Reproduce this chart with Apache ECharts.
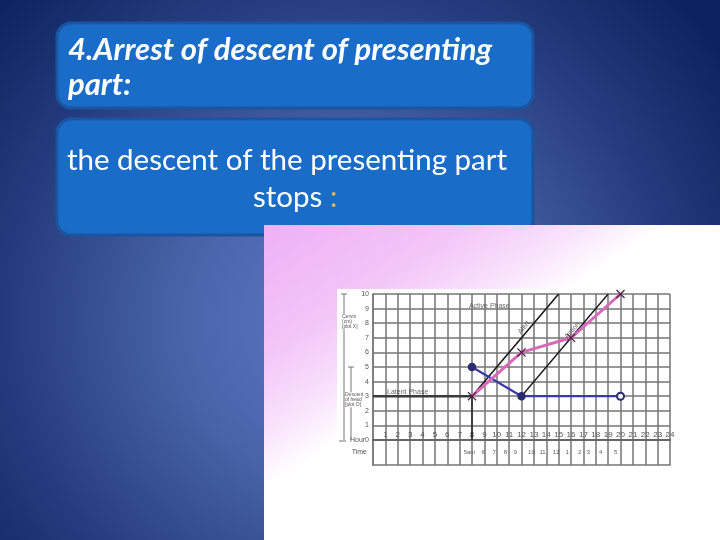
<!DOCTYPE html>
<html><head><meta charset="utf-8">
<script src="https://cdn.jsdelivr.net/npm/echarts@6/dist/echarts.min.js"></script>
<style>html,body{margin:0;padding:0;background:#1a2f70}#c{width:720px;height:540px}</style>
</head><body><div id="c"></div>
<script>
// ---- data ----
const hourTicks = [0, 24];            // x range (hours)
const cmTicks = [0, 10];              // y range (cm)
const cervixHours = [8, 12, 16, 20];
const cervixCm = [3, 6, 7, 10];
const descentHours = [8, 12, 20];
const descentVals = [5, 3, 3];
const alertHours = [8, 15];
const alertVals = [3, 10];
const actionHours = [12, 19];
const actionVals = [3, 10];
const latentHours = [0, 8];
const latentVals = [3, 3];
const startHours = [8, 8];
const startVals = [3, 0];
const timePos = [7.8, 8.9, 9.8, 10.7, 11.5, 12.8, 13.7, 14.8, 15.7, 16.7, 17.4, 18.4, 19.6];
const timeLabels = ['5am', '6', '7', '8', '9', '10', '11', '12', '1', '2', '3', '4', '5'];
const phaseX = [2.8, 9.4];
const phaseY = [3.3, 9.2];
const phaseText = ['Latent Phase', 'Active Phase'];
const rotX = [12.2, 16.1];
const rotY = [7.7, 7.5];
const rotText = ['Alert', 'Action'];

const zip = (a, b) => a.map((v, i) => [v, b[i]]);
const xPath = 'path://M0,1L1,0L5,4L9,0L10,1L6,5L10,9L9,10L5,6L1,10L0,9L4,5Z';
const gridLine = { color: '#747474', width: 1.5 };

const chart = echarts.init(document.getElementById('c'));
chart.setOption({
  animation: false,
  grid: [
    { left: 373, top: 294, width: 297, height: 146 },
    { left: 373, top: 440, width: 297, height: 25 }
  ],
  xAxis: [
    { gridIndex: 0, type: 'value', min: hourTicks[0], max: hourTicks[1], interval: 1,
      axisLine: { show: true, lineStyle: { color: '#666', width: 2 } },
      axisTick: { show: false },
      splitLine: { show: true, lineStyle: gridLine },
      axisLabel: { margin: -9, fontSize: 8, color: '#555', fontFamily: 'Liberation Sans',
        formatter: v => v === 0 ? '' : String(v) } },
    { gridIndex: 1, type: 'value', min: hourTicks[0], max: hourTicks[1], interval: 1,
      axisLine: { show: true, lineStyle: { color: '#777', width: 1.5 } },
      axisTick: { show: false }, axisLabel: { show: false },
      splitLine: { show: true, lineStyle: gridLine } }
  ],
  yAxis: [
    { gridIndex: 0, type: 'value', min: cmTicks[0], max: cmTicks[1], interval: 1,
      axisLine: { show: true, lineStyle: { color: '#777', width: 1.5 } },
      axisTick: { show: false },
      splitLine: { show: true, lineStyle: gridLine },
      axisLabel: { margin: 4, fontSize: 7, color: '#555', fontFamily: 'Liberation Sans',
        formatter: v => v === 0 ? 'Hour0' : String(v) } },
    { gridIndex: 1, type: 'category', data: ['Time'],
      axisLine: { show: true, lineStyle: { color: '#777', width: 1.5 } },
      axisTick: { show: false }, splitLine: { show: false },
      axisLabel: { margin: 6, fontSize: 7, color: '#555', fontFamily: 'Liberation Sans' } }
  ],
  series: [
    { type: 'line', data: zip(latentHours, latentVals), symbol: 'none',
      lineStyle: { color: '#3a3a3a', width: 2.4 }, z: 3 },
    { type: 'line', data: zip(startHours, startVals), symbol: 'none',
      lineStyle: { color: '#222', width: 1.5 }, z: 3 },
    { type: 'line', data: zip(alertHours, alertVals), symbol: 'none',
      lineStyle: { color: '#1a1a1a', width: 1.6 }, z: 3 },
    { type: 'line', data: zip(actionHours, actionVals), symbol: 'none',
      lineStyle: { color: '#1a1a1a', width: 1.4 }, z: 3 },
    { type: 'line', data: zip(descentHours, descentVals),
      symbol: (v, p) => p.dataIndex === descentHours.length - 1 ? 'emptyCircle' : 'circle',
      symbolSize: 7,
      lineStyle: { color: '#3a3aa8', width: 2.2 },
      itemStyle: { color: '#2a2a70', borderColor: '#2a2a70', borderWidth: 1.5 }, z: 4 },
    { type: 'line', data: zip(cervixHours, cervixCm), symbol: xPath, symbolSize: 9,
      lineStyle: { color: '#d868ba', width: 3 },
      itemStyle: { color: '#4a2040' }, z: 5 },
    { type: 'scatter', data: zip(phaseX, phaseY), symbolSize: 0, silent: true,
      label: { show: true, position: 'inside', fontSize: 7, color: '#444', fontFamily: 'Liberation Sans',
        formatter: p => phaseText[p.dataIndex] }, z: 6 },
    { type: 'scatter', data: zip(rotX, rotY), symbolSize: 0, silent: true,
      label: { show: true, position: 'inside', fontSize: 7, color: '#444', rotate: 50, fontFamily: 'Liberation Sans',
        formatter: p => rotText[p.dataIndex] }, z: 6 },
    { type: 'scatter', xAxisIndex: 1, yAxisIndex: 1, symbolSize: 0, silent: true,
      data: timePos.map(v => [v, 'Time']),
      label: { show: true, position: 'inside', fontSize: 6, color: '#333', fontFamily: 'Liberation Sans',
        formatter: p => timeLabels[p.dataIndex] }, z: 6 }
  ]
});

const py = v => chart.convertToPixel({ gridIndex: 0 }, [0, v])[1];
const y10 = py(10), y5 = py(5), y0 = py(0), yC = py(8.1), yD = py(2.75);
const lineEl = (x1, y1, x2, y2) => ({ type: 'line', z: 1, shape: { x1, y1, x2, y2 }, style: { stroke: '#777', lineWidth: 1 } });

chart.setOption({
  graphic: [
    { type: 'rect', z: -20, shape: { x: 0, y: 0, width: 720, height: 540 },
      style: { fill: new echarts.graphic.RadialGradient(340, 320, 470, [
        { offset: 0, color: '#5b7ac4' }, { offset: 0.35, color: '#4963a8' },
        { offset: 0.7, color: '#253d7e' }, { offset: 1, color: '#0c2260' }], true) } },
    { type: 'rect', z: -15, shape: { x: 57, y: 23, width: 476, height: 85, r: 14 },
      style: { fill: '#1a6cc9', stroke: '#1a55a2', lineWidth: 3 } },
    { type: 'rect', z: -15, shape: { x: 57, y: 119, width: 476, height: 116, r: 14 },
      style: { fill: '#1a6cc9', stroke: '#1a55a2', lineWidth: 3 } },
    { type: 'text', z: -14, style: { text: '4.Arrest of descent of presenting', x: 68, y: 50,
      verticalAlign: 'middle', fill: '#fff', font: 'italic bold 31px Lato' } },
    { type: 'text', z: -14, style: { text: 'part:', x: 68, y: 85,
      verticalAlign: 'middle', fill: '#fff', font: 'italic bold 31px Lato' } },
    { type: 'text', z: -14, style: { text: 'the descent of the presenting part', x: 287, y: 160,
      align: 'center', verticalAlign: 'middle', fill: '#fff', font: '29.5px Lato' } },
    { type: 'text', z: -14, style: { text: 'stops', x: 253, y: 197,
      verticalAlign: 'middle', fill: '#fff', font: '29.5px Lato' } },
    { type: 'text', z: -14, style: { text: ':', x: 330, y: 197,
      verticalAlign: 'middle', fill: '#e2b94c', font: '29.5px Lato' } },
    { type: 'rect', z: -12, shape: { x: 264, y: 225, width: 456, height: 315 },
      style: { fill: new echarts.graphic.LinearGradient(264, 225, 385, 410, [
        { offset: 0, color: '#eeb0f5' }, { offset: 0.5, color: '#f3c6f8' },
        { offset: 0.8, color: '#f9e4fc' }, { offset: 1, color: '#ffffff' }], true) } },
    { type: 'rect', z: -11, shape: { x: 337, y: 289, width: 339, height: 193 },
      style: { fill: '#ffffff' } },
    lineEl(344, y10, 344, y0), lineEl(341, y10, 347, y10),
    lineEl(351, y5, 351, y0), lineEl(348, y5, 354, y5),
    lineEl(339, y0 + 1, 346, y0 + 1),
    { type: 'text', z: 2, style: { text: 'Cervix\n(cm)\n[plot X]', x: 342, y: yC, verticalAlign: 'middle',
      fill: '#555', font: '5px Liberation Sans', lineHeight: 5, backgroundColor: '#fff' } },
    { type: 'text', z: 2, style: { text: 'Descent\nof head\n[plot O]', x: 345, y: yD, verticalAlign: 'middle',
      fill: '#555', font: '5px Liberation Sans', lineHeight: 5, backgroundColor: '#fff' } }
  ]
});
</script></body></html>
